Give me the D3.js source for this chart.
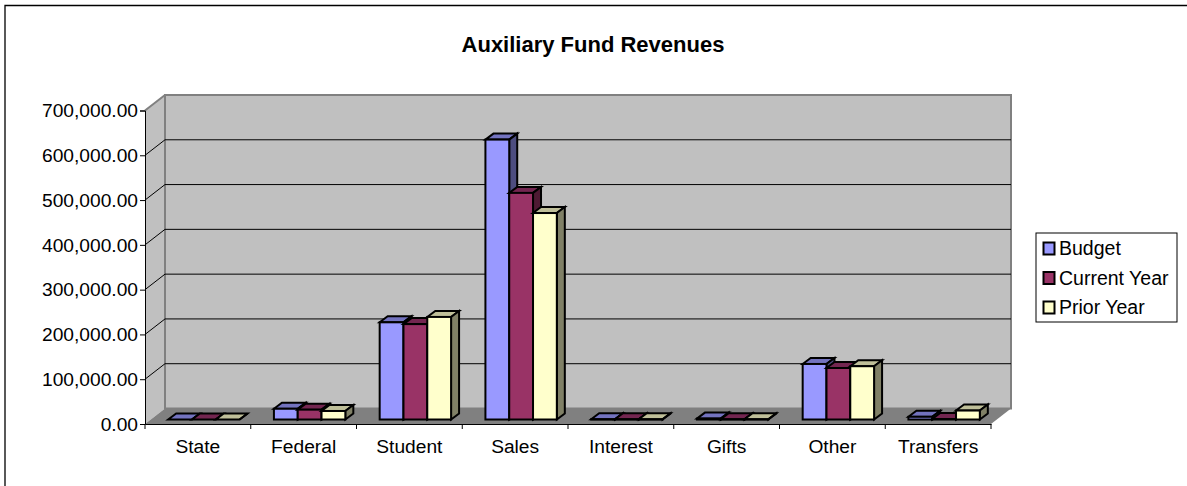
<!DOCTYPE html>
<html>
<head>
<meta charset="utf-8">
<script src="https://cdn.jsdelivr.net/npm/d3@7"></script>
<style>
html, body { margin: 0; padding: 0; background: #fff; }
svg { display: block; }
text { font-family: "Liberation Sans", Arial, sans-serif; fill: #000; }
</style>
</head>
<body>
<div id="chart"></div>
<script>
const categories = ['State', 'Federal', 'Student', 'Sales', 'Interest', 'Gifts', 'Other', 'Transfers'];
const seriesNames = ['Budget', 'Current Year', 'Prior Year'];
const budget = [0, 24000, 217000, 625000, 500, 2000, 124000, 6000];
const currentYear = [0, 22000, 213000, 506000, 500, 500, 115000, 1000];
const priorYear = [0, 19000, 229000, 461000, 500, 500, 119000, 20000];
const yTicks = [0, 100000, 200000, 300000, 400000, 500000, 600000, 700000];

const faceColors = ['#9999ff', '#993366', '#ffffcc'];
const topColors = ['#7373bf', '#732650', '#bfbf99'];
const sideColors = ['#4d4d80', '#4d1a33', '#808066'];

const width = 1187, height = 486;
const depthX = 20, depthY = 15.5;   //offset of the back wall
const barDepthX = 8, barDepthY = 6;

const svg = d3.select('#chart').append('svg')
  .attr('width', width)
  .attr('height', height);

//Chart border, only the top and left edges show
svg.append('polyline')
  .attr('points', '5,486 5,5.5 1187,5.5')
  .attr('fill', 'none').attr('stroke', '#000').attr('stroke-width', 1.3);

svg.append('text')
  .attr('x', 593).attr('y', 52)
  .attr('text-anchor', 'middle')
  .style('font-size', '22px')
  .style('font-weight', 'bold')
  .text('Auxiliary Fund Revenues');

const x = d3.scaleBand().domain(categories).range([145, 991]);
const y = d3.scaleLinear().domain([0, 700000]).range([424, 110.5]);

const poly = function (pts, fill, stroke, sw) {
  return svg.append('polygon')
    .attr('points', pts.map(function (d) { return d.join(','); }).join(' '))
    .attr('fill', fill)
    .attr('stroke', stroke)
    .attr('stroke-width', sw);
};

const x0 = x.range()[0], x1 = x.range()[1];
const y0 = y(0), yTop = y(700000);

//Side wall, floor, back wall
poly([[x0, y0], [x0 + depthX, y0 - depthY], [x0 + depthX, yTop - depthY], [x0, yTop]], '#c0c0c0', 'none', 0);
poly([[x0, y0], [x0 + depthX, y0 - depthY], [x1 + depthX, y0 - depthY], [x1, y0]], '#808080', 'none', 0);
svg.append('rect')
  .attr('x', x0 + depthX).attr('y', yTop - depthY)
  .attr('width', x1 - x0).attr('height', y0 - yTop)
  .attr('fill', '#c0c0c0').attr('stroke', '#808080').attr('stroke-width', 2);
svg.append('line')
  .attr('x1', x0).attr('y1', yTop).attr('x2', x0 + depthX).attr('y2', yTop - depthY)
  .attr('stroke', '#808080').attr('stroke-width', 2);

//Gridlines
yTicks.slice(1, -1).forEach(function (t) {
  svg.append('polyline')
    .attr('points', [[x0, y(t)], [x0 + depthX, y(t) - depthY], [x1 + depthX, y(t) - depthY]].join(' '))
    .attr('fill', 'none').attr('stroke', '#000').attr('stroke-width', 1);
});

//Bars, back to front within each category
const seriesValues = [budget, currentYear, priorYear];
const barW = 23.8;
const plotOffX = 6, plotOffY = 4.5;

categories.forEach(function (cat, i) {
  const start = x(cat) + (x.bandwidth() - barW * 3) / 2 + plotOffX;
  seriesValues.forEach(function (vals, s) {
    const bx = start + s * barW;
    const bt = y(vals[i]) - plotOffY;
    const bb = y0 - plotOffY;
    poly([[bx, bt], [bx + barDepthX, bt - barDepthY], [bx + barW + barDepthX, bt - barDepthY], [bx + barW, bt]], topColors[s], '#000', 2);
    poly([[bx + barW, bb], [bx + barW + barDepthX, bb - barDepthY], [bx + barW + barDepthX, bt - barDepthY], [bx + barW, bt]], sideColors[s], '#000', 2);
    svg.append('rect')
      .attr('x', bx).attr('y', bt)
      .attr('width', barW).attr('height', bb - bt)
      .attr('fill', faceColors[s]).attr('stroke', '#000').attr('stroke-width', 2);
  });
});

//Axes
const yAxis = d3.axisLeft(y)
  .tickValues(yTicks)
  .tickSize(5)
  .tickPadding(2)
  .tickFormat(d3.format(',.2f'));
const yG = svg.append('g').attr('transform', 'translate(' + x0 + ',0)').call(yAxis);
const xAxis = d3.axisBottom(x).tickSize(0).tickPadding(15);
const xG = svg.append('g').attr('transform', 'translate(0,' + y0 + ')').call(xAxis);
xG.selectAll('.tick')
  .append('line')
  .attr('x1', -x.bandwidth() / 2).attr('x2', -x.bandwidth() / 2)
  .attr('y1', 0).attr('y2', 5)
  .attr('stroke', '#000');
xG.append('line')
  .attr('x1', x1).attr('x2', x1)
  .attr('y1', 0).attr('y2', 5)
  .attr('stroke', '#000');
svg.selectAll('.tick text')
  .style('font-family', '"Liberation Sans", Arial, sans-serif')
  .style('font-size', '19.2px');
svg.selectAll('.domain').attr('stroke', '#000').attr('stroke-width', 1);

//Legend
svg.append('rect')
  .attr('x', 1036).attr('y', 233)
  .attr('width', 141).attr('height', 89)
  .attr('fill', '#fff').attr('stroke', '#000');
seriesNames.forEach(function (name, s) {
  const ly = 248.5 + s * 29.5;
  svg.append('rect')
    .attr('x', 1043.5).attr('y', ly - 6)
    .attr('width', 11).attr('height', 12)
    .attr('fill', faceColors[s]).attr('stroke', '#000').attr('stroke-width', 2);
  svg.append('text')
    .attr('x', 1059).attr('y', ly + 6.5)
    .style('font-size', '19.5px')
    .text(name);
});
</script>
</body>
</html>
